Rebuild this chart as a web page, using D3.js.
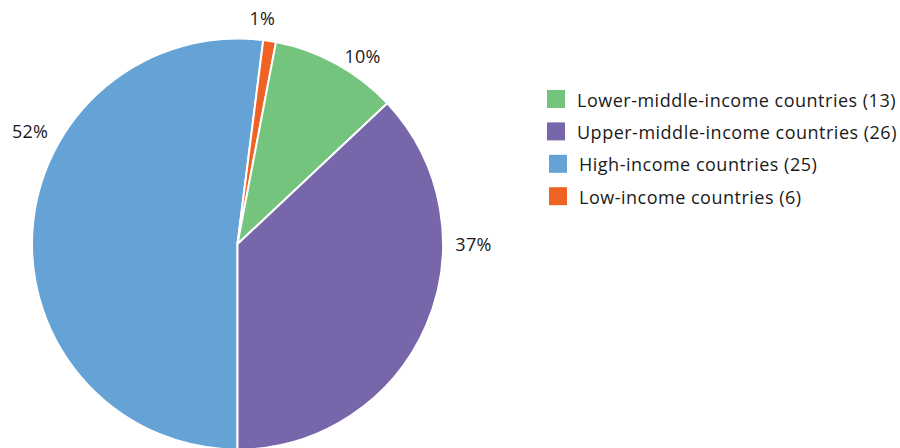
<!DOCTYPE html>
<html>
<head>
<meta charset="utf-8">
<script src="https://cdn.jsdelivr.net/npm/d3@7/dist/d3.min.js"></script>
<style>
  html, body { margin: 0; padding: 0; background: #fff; }
  svg { display: block; font-family: "Open Sans", "Noto Sans", sans-serif; }
</style>
</head>
<body>
<svg id="chart" width="900" height="448"></svg>
<script>
// Share of the total by income group (pie slices, drawn clockwise from 6 o'clock)
const sliceGroups = ["High-income countries", "Low-income countries", "Lower-middle-income countries", "Upper-middle-income countries"];
const sliceShares = [52, 1, 10, 37];
const sliceColors = ["#65a3d7", "#ee6323", "#74c47e", "#7866ab"];

// Legend entries with the number of countries in each group
const legendGroups = ["Lower-middle-income countries", "Upper-middle-income countries", "High-income countries", "Low-income countries"];
const legendCounts = [13, 26, 25, 6];

const svg = d3.select("#chart");
const cx = 237.5, cy = 244, radius = 205.5;

const color = d3.scaleOrdinal().domain(sliceGroups).range(sliceColors);

const slices = sliceGroups.map((g, i) => ({ group: g, share: sliceShares[i] }));

const pie = d3.pie()
  .value(d => d.share)
  .sort(null)
  .startAngle(Math.PI)
  .endAngle(Math.PI * 3);

const arc = d3.arc().innerRadius(0).outerRadius(radius);

// Label placement outside the rim: angle (degrees clockwise from 12 o'clock) and distance from centre
const labelPlacement = {
  "High-income countries": { angle: -61.5, dist: 236 },
  "Low-income countries": { angle: 6.3, dist: 227 },
  "Lower-middle-income countries": { angle: 33.6, dist: 226 },
  "Upper-middle-income countries": { angle: 90, dist: 236 }
};

const g = svg.append("g").attr("transform", `translate(${cx},${cy})`);

const arcs = pie(slices);

g.selectAll("path.slice")
  .data(arcs)
  .join("path")
  .attr("class", "slice")
  .attr("d", arc)
  .attr("fill", d => color(d.data.group))
  .attr("stroke", "#fff")
  .attr("stroke-width", 2)
  .attr("stroke-linejoin", "round");

g.selectAll("text.pct")
  .data(arcs)
  .join("text")
  .attr("class", "pct")
  .attr("transform", d => {
    const p = labelPlacement[d.data.group];
    const a = p.angle * Math.PI / 180;
    return `translate(${p.dist * Math.sin(a)},${-p.dist * Math.cos(a)})`;
  })
  .attr("text-anchor", "middle")
  .attr("dominant-baseline", "central")
  .attr("font-size", 18)
  .attr("letter-spacing", 0.3)
  .attr("fill", "#1a1a1a")
  .text(d => d.data.share + "%");

// Legend
const legend = svg.append("g").attr("transform", "translate(547,90)");
const rowStep = 32.4;
const rowShift = [0, 0, 2, 2];

const rows = legend.selectAll("g.row")
  .data(legendGroups.map((gName, i) => ({ group: gName, count: legendCounts[i] })))
  .join("g")
  .attr("class", "row")
  .attr("transform", (d, i) => `translate(${rowShift[i]},${i * rowStep})`);

rows.append("rect")
  .attr("width", 18)
  .attr("height", 18)
  .attr("fill", d => color(d.group));

rows.append("text")
  .attr("x", 30)
  .attr("y", 9.5)
  .attr("dominant-baseline", "central")
  .attr("font-size", 18)
  .attr("letter-spacing", 0.5)
  .attr("fill", "#1a1a1a")
  .text(d => `${d.group} (${d.count})`);
</script>
</body>
</html>
